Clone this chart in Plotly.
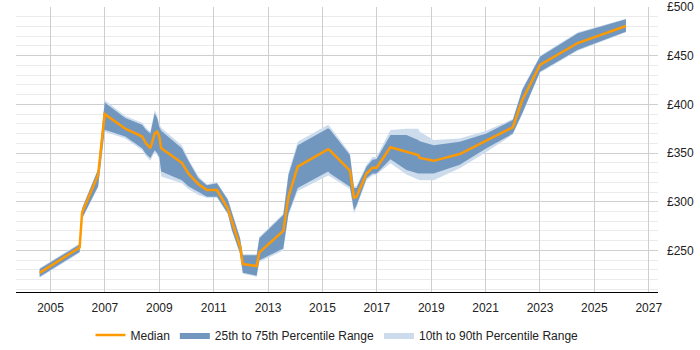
import plotly.graph_objects as go

years = [2004.6, 2006.07, 2006.16, 2006.75, 2006.99, 2007.75, 2008.37, 2008.51, 2008.67, 2008.83,
         2008.92, 2009.0, 2009.07, 2009.83, 2010.07, 2010.44, 2010.75, 2011.12, 2011.52, 2011.67,
         2011.97, 2012.07, 2012.58, 2012.68, 2013.56, 2013.75, 2014.09, 2015.21, 2015.28, 2016.01,
         2016.16, 2016.25, 2016.62, 2016.84, 2016.99, 2017.5, 2018.09, 2018.52, 2018.58, 2019.09,
         2020.05, 2021.03, 2022.0, 2022.35, 2023.0, 2024.39, 2026.16]
median = [227, 253, 289, 327.5, 390, 375, 367, 360, 355, 370,
          372, 367, 355, 340, 329, 318, 312, 312, 293, 280,
          254, 236, 234, 248, 270, 305, 336, 354, 352.5, 332,
          304, 305, 329, 335, 335, 356, 351, 348, 345, 342,
          349, 363, 376.5, 404.5, 440.5, 463, 480.5]
p25 = [223, 248.5, 283, 316, 374, 367, 355, 349, 345, 353,
       350, 346, 331, 322, 316, 310, 305, 305, 288, 271,
       247, 227, 224, 240, 252, 288, 314, 331, 329, 315.5,
       291.5, 296, 324, 329, 329, 343.6, 332.6, 329, 329, 329,
       338, 355, 370, 391, 433.5, 456, 474.7]
p75 = [231, 256, 293, 333, 402, 386, 379, 374, 370, 391,
       386, 377, 373, 355, 342, 324, 317, 319, 302, 289,
       262.5, 245, 245, 262.5, 286.5, 327.5, 358, 375.5, 374, 348,
       314, 314, 336, 343, 344, 368.6, 368.6, 363.5, 362, 358,
       361.7, 370, 384, 415, 449, 473, 487.4]
p10 = [222, 247.5, 282, 315, 372, 365, 353, 347, 342, 351,
       348, 343, 326, 319, 313, 307, 304, 304, 287, 270,
       246, 226, 223, 238, 250, 286, 311, 327, 326, 313,
       288, 294, 322, 327, 328, 339.5, 328, 322, 322, 322,
       334.5, 351, 369, 390, 432.5, 455, 474]
p90 = [232, 257, 294, 334, 404.5, 388, 381, 376, 372, 394,
       389, 380, 376, 358, 344, 326, 318, 320, 303, 290,
       263, 246, 246, 264, 288, 330, 361.5, 379, 377, 350,
       316, 316, 338, 346, 346, 373.7, 375, 375, 372, 363.5,
       365, 373, 385, 416, 450, 474, 488]

x_ticks = [2005, 2007, 2009, 2011, 2013, 2015, 2017, 2019, 2021, 2023, 2025, 2027]
y_ticks = [250, 300, 350, 400, 450, 500]
y_labels = ["£250", "£300", "£350", "£400", "£450", "£500"]

LIGHT = "rgb(204,220,237)"
DARK = "rgb(114,151,191)"
ORANGE = "#FF9900"

fig = go.Figure()
fig.add_trace(go.Scatter(x=years, y=p10, mode="lines", line=dict(width=0, color=LIGHT),
                         showlegend=False, hoverinfo="skip"))
fig.add_trace(go.Scatter(x=years, y=p90, mode="lines", line=dict(width=0, color=LIGHT),
                         fill="tonexty", fillcolor=LIGHT, name="10th to 90th Percentile Range",
                         legendrank=3))
fig.add_trace(go.Scatter(x=years, y=p25, mode="lines", line=dict(width=0, color=DARK),
                         showlegend=False, hoverinfo="skip"))
fig.add_trace(go.Scatter(x=years, y=p75, mode="lines", line=dict(width=0, color=DARK),
                         fill="tonexty", fillcolor=DARK, name="25th to 75th Percentile Range",
                         legendrank=2))
fig.add_trace(go.Scatter(x=years, y=median, mode="lines", line=dict(width=2.5, color=ORANGE),
                         name="Median", legendrank=1))

fig.update_layout(
    width=700, height=350,
    margin=dict(l=16, r=42, t=7, b=58, autoexpand=False),
    paper_bgcolor="white", plot_bgcolor="white",
    font=dict(family="Liberation Sans, Arial, sans-serif", size=12, color="#222"),
    showlegend=True,
    legend=dict(orientation="h", x=0.5, xanchor="center", y=-0.151, yanchor="middle",
                font=dict(size=12, color="#222"), traceorder="normal"),
    xaxis=dict(range=[2003.73, 2027.34], tickvals=x_ticks, showgrid=True,
               gridcolor="#cfcfcf", gridwidth=1, showline=True, linecolor="#000",
               linewidth=1, ticks="", zeroline=False, fixedrange=True,
               ticklabelstandoff=5, automargin=False),
    yaxis=dict(range=[207.3, 500], side="right", tickvals=y_ticks, ticktext=y_labels,
               showgrid=True, gridcolor="#cfcfcf", gridwidth=1, zeroline=False,
               showline=False, ticks="", ticklabelstandoff=8, automargin=False,
               minor=dict(dtick=10, tick0=200, showgrid=True, gridcolor="#ebebeb", gridwidth=1),
               fixedrange=True),
)

fig.write_html("out.html")
